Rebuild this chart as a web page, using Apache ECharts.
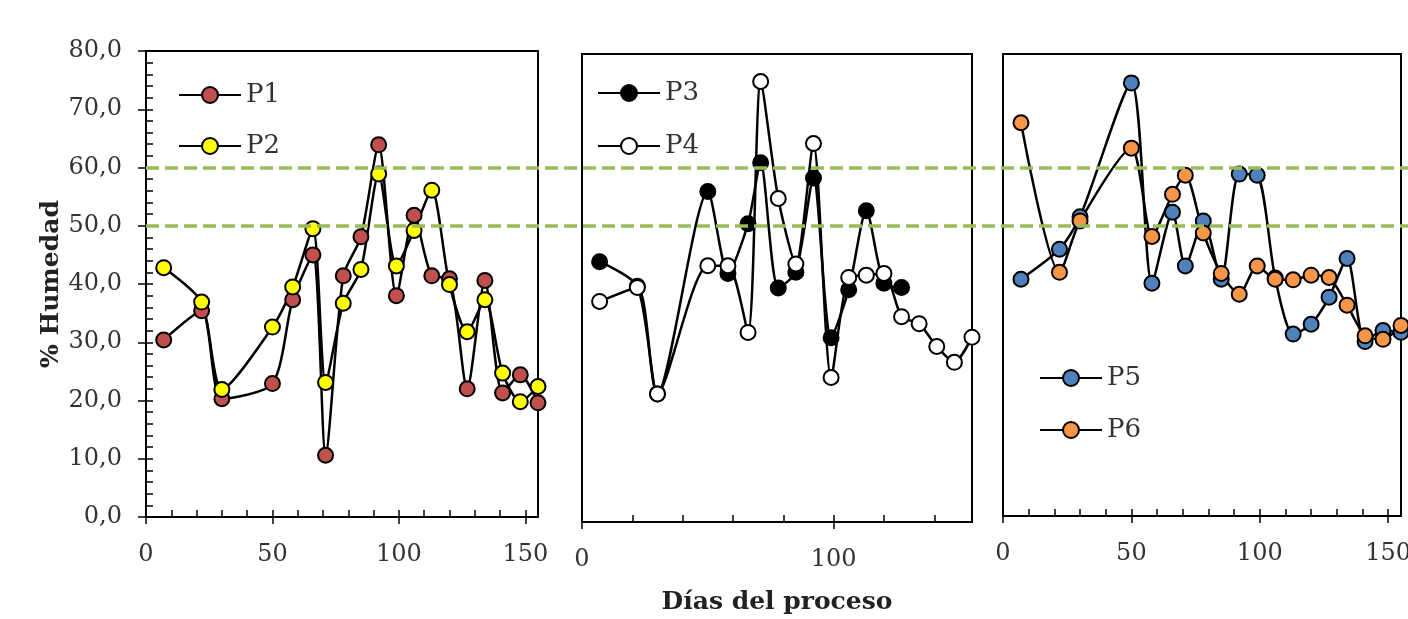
<!DOCTYPE html>
<html>
<head lang="es">
    <meta charset="UTF-8">
    <title>% Humedad</title>
    <style>
        html, body { margin: 0; padding: 0; background: #fff; }
        #main { width: 1408px; height: 619px; }
    </style>
</head>
<body>
<div id="main"></div>
<script src="https://cdn.jsdelivr.net/npm/echarts@6/dist/echarts.min.js"></script>
<script>
    // dias de muestreo
    var days = [7, 22, 30, 50, 58, 66, 71, 78, 85, 92, 99, 106, 113, 120, 127, 134, 141, 148, 155];

    // % humedad por pila
    var p1 = [30.4, 35.4, 20.3, 22.9, 37.3, 45.0, 10.6, 41.4, 48.1, 63.9, 38.0, 51.8, 41.4, 40.9, 22.0, 40.6, 21.3, 24.4, 19.6];
    var p2 = [42.8, 36.9, 21.9, 32.6, 39.5, 49.5, 23.1, 36.7, 42.5, 58.9, 43.1, 49.2, 56.1, 39.9, 31.8, 37.3, 24.7, 19.8, 22.4];
    var p3 = [44.5, 40.3, 21.9, 56.5, 42.5, 51.0, 61.4, 40.0, 42.7, 58.8, 31.5, 39.7, 53.2, 40.8, 40.1];
    var p4 = [37.7, 40.1, 21.9, 43.8, 43.8, 32.4, 75.3, 55.3, 44.1, 64.7, 24.7, 41.8, 42.2, 42.5, 35.1, 33.9, 30.0, 27.3, 31.6];
    var p5 = [41.0, 46.2, 51.8, 75.0, 40.3, 52.6, 43.3, 51.1, 41.0, 59.2, 59.0, 41.2, 31.5, 33.2, 37.9, 44.6, 30.2, 32.1, 31.8];
    var p6 = [68.1, 42.2, 51.1, 63.7, 48.4, 55.7, 59.0, 49.0, 42.0, 38.4, 43.3, 41.0, 40.9, 41.7, 41.3, 36.5, 31.2, 30.6, 33.0];

    // limites de humedad (lineas verdes)
    var limits = [50, 60];

    // ticks
    var xTicksWide = [0, 50, 100, 150];
    var xTicksMid = [0, 100];
    var yTicks = [0, 10, 20, 30, 40, 50, 60, 70, 80];

    var FONT = 'DejaVu Serif';
    var TXT = '#333';

    function pairs(vals) {
        var out = [];
        for (var i = 0; i < vals.length; i++) {
            out.push([days[i], vals[i]]);
        }
        return out;
    }

    function serie(name, vals, color, idx) {
        return {
            name: name,
            type: 'line',
            xAxisIndex: idx,
            yAxisIndex: idx,
            data: pairs(vals),
            smooth: 0.25,
            clip: false,
            symbol: 'circle',
            symbolSize: 15,
            lineStyle: {color: '#000', width: 2.5},
            itemStyle: {color: color, borderColor: '#000', borderWidth: 2},
            z: 3
        };
    }

    // eje x principal: ticks hacia dentro + etiquetas
    function xMain(grid, interval, ticks, extra) {
        var ax = {
            type: 'value',
            gridIndex: grid,
            min: 0,
            max: 155,
            interval: interval,
            axisLine: {lineStyle: {color: '#000', width: 2}},
            axisTick: {inside: true, length: 7, lineStyle: {color: '#000', width: 1.5}},
            minorTick: {show: true, splitNumber: 5, length: 7, lineStyle: {color: '#000', width: 1.5}},
            axisLabel: {customValues: ticks, fontFamily: FONT, fontSize: 24, color: TXT, margin: 26},
            splitLine: {show: false}
        };
        for (var k in extra) ax[k] = extra[k];
        return ax;
    }

    // ticks que salen hacia fuera (solo los principales)
    function xOuter(grid, ticks) {
        return {
            type: 'value', gridIndex: grid, min: 0, max: 155, position: 'bottom',
            axisLine: {show: false},
            axisTick: {inside: false, length: 7, customValues: ticks, lineStyle: {color: '#000', width: 1.5}},
            axisLabel: {show: false},
            splitLine: {show: false}
        };
    }

    function yHidden(grid) {
        return {type: 'value', gridIndex: grid, min: 0, max: 80, show: false, splitLine: {show: false}};
    }

    var gridBox = {
        show: true, borderColor: '#000', borderWidth: 2, backgroundColor: 'transparent',
        containLabel: false, outerBoundsMode: 'none'
    };

    var legendBase = {
        orient: 'vertical',
        padding: 0,
        itemWidth: 62,
        itemHeight: 20,
        selectedMode: false,
        textStyle: {fontFamily: FONT, fontSize: 26, color: TXT}
    };

    function legend(names, left, top, gap) {
        var l = {};
        for (var k in legendBase) l[k] = legendBase[k];
        l.data = names;
        l.left = left;
        l.top = top;
        l.itemGap = gap;
        return l;
    }

    var titleStyle = {fontFamily: FONT, fontSize: 25, fontWeight: 'bold', color: '#222'};

    var myChart = echarts.init(document.getElementById('main'));

    var option = {
        backgroundColor: '#fff',
        animation: false,
        grid: [
            Object.assign({left: 146, top: 51, width: 392, height: 466}, gridBox),
            Object.assign({left: 582, top: 54, width: 390, height: 468}, gridBox),
            Object.assign({left: 1003, top: 54, width: 398, height: 462}, gridBox),
            {left: 146, top: 51, right: 0, height: 466, show: false, outerBoundsMode: 'none'}
        ],
        legend: [
            legend(['P1', 'P2'], 178, 82, 25),
            legend(['P3', 'P4'], 597, 80, 27),
            legend(['P5', 'P6'], 1039, 365, 26)
        ],
        xAxis: [
            xMain(0, 50, xTicksWide, {}),
            xMain(1, 100, xTicksMid, {
                name: 'Días del proceso',
                nameLocation: 'middle',
                nameGap: 68,
                nameTextStyle: titleStyle
            }),
            xMain(2, 50, xTicksWide, {}),
            {type: 'value', gridIndex: 3, min: 0, max: 1, show: false, splitLine: {show: false}},
            xOuter(0, xTicksWide),
            xOuter(1, xTicksMid),
            xOuter(2, xTicksWide)
        ],
        yAxis: [
            {
                type: 'value',
                gridIndex: 0,
                min: 0,
                max: 80,
                interval: 10,
                name: '% Humedad',
                nameLocation: 'middle',
                nameGap: 82,
                nameTextStyle: titleStyle,
                axisLine: {lineStyle: {color: '#000', width: 2}},
                axisTick: {inside: true, length: 7, lineStyle: {color: '#000', width: 1.5}},
                minorTick: {show: true, splitNumber: 5, length: 7, lineStyle: {color: '#000', width: 1.5}},
                axisLabel: {
                    customValues: yTicks,
                    fontFamily: FONT, fontSize: 24, color: TXT, margin: 24,
                    formatter: function (v) { return v.toFixed(1).replace('.', ','); }
                },
                splitLine: {show: false}
            },
            yHidden(1),
            yHidden(2),
            yHidden(3),
            {
                type: 'value', gridIndex: 0, min: 0, max: 80, position: 'left',
                axisLine: {show: false},
                axisTick: {inside: false, length: 8, customValues: yTicks, lineStyle: {color: '#000', width: 1.5}},
                axisLabel: {show: false},
                splitLine: {show: false}
            }
        ],
        series: [
            serie('P1', p1, '#C0504D', 0),
            serie('P2', p2, '#FFFF00', 0),
            serie('P3', p3, '#000000', 1),
            serie('P4', p4, '#FFFFFF', 1),
            serie('P5', p5, '#4F81BD', 2),
            serie('P6', p6, '#F79646', 2),
            {
                name: 'limites',
                type: 'line',
                xAxisIndex: 3,
                yAxisIndex: 3,
                data: [],
                z: 10,
                markLine: {
                    silent: true,
                    symbol: ['none', 'none'],
                    label: {show: false},
                    lineStyle: {color: '#9BBB59', width: 3.5, type: [13, 6]},
                    data: limits.map(function (v) { return {yAxis: v}; })
                }
            }
        ]
    };

    myChart.setOption(option);
</script>
</body>
</html>
